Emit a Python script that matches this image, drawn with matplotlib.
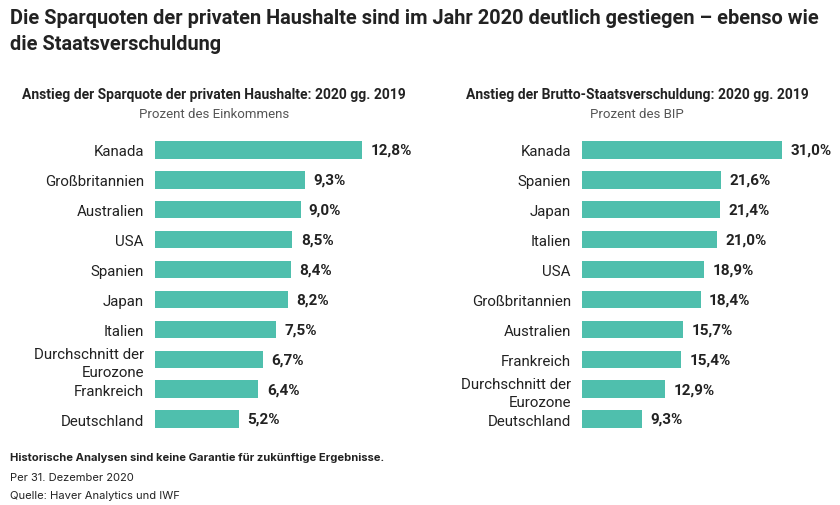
import matplotlib
matplotlib.use("Agg")
import matplotlib.pyplot as plt

cond = 'Roboto'

left_categories = ["Kanada", "Großbritannien", "Australien", "USA", "Spanien", "Japan",
                   "Italien", "Durchschnitt der\nEurozone", "Frankreich", "Deutschland"]
left_values = [12.8, 9.3, 9.0, 8.5, 8.4, 8.2, 7.5, 6.7, 6.4, 5.2]
right_categories = ["Kanada", "Spanien", "Japan", "Italien", "USA", "Großbritannien",
                    "Australien", "Frankreich", "Durchschnitt der\nEurozone", "Deutschland"]
right_values = [31.0, 21.6, 21.4, 21.0, 18.9, 18.4, 15.7, 15.4, 12.9, 9.3]

BAR = '#4FBFAD'
TXT = '#222222'
W, H = 840, 506
fig = plt.figure(figsize=(8.4, 5.06), dpi=100)

def px_axes(x0, y_top, w, h):
    return fig.add_axes([x0 / W, (H - y_top - h) / H, w / W, h / H])

top, bottom = 136, 435

def panel(x0, xmax, pxunit, cats, vals, title, sub, cx):
    ax = px_axes(x0, top, xmax * pxunit, bottom - top)
    y = list(range(len(cats)))
    ax.barh(y, vals, height=0.58, color=BAR)
    ax.set_xlim(0, xmax)
    ax.set_ylim(len(cats) - 0.5, -0.5)
    ax.set_yticks(y)
    ax.set_yticklabels(cats, fontsize=10.8, color=TXT, family=cond, linespacing=1.36)
    ax.tick_params(axis='y', length=0, pad=8)
    ax.set_xticks([])
    for s in ax.spines.values():
        s.set_visible(False)
    for yi, v in zip(y, vals):
        ax.annotate(f"{v:.1f}%".replace('.', ','), (v, yi), xytext=(6, 0),
                    textcoords='offset points', va='center', ha='left',
                    fontsize=11, fontweight='bold', color=TXT, family=cond)
    fig.text(cx / W, 1 - 95 / H, title, ha='center', va='center', fontsize=10,
             fontweight='bold', color=TXT, family=cond)
    fig.text(cx / W, 1 - 114 / H, sub, ha='center', va='center', fontsize=9.5,
             color='#555555', family=cond)

panel(155, 16, 16.17, left_categories, left_values,
      "Anstieg der Sparquote der privaten Haushalte: 2020 gg. 2019",
      "Prozent des Einkommens", 214)
panel(582, 40, 6.45, right_categories, right_values,
      "Anstieg der Brutto-Staatsverschuldung: 2020 gg. 2019",
      "Prozent des BIP", 637)

fig.text(10 / W, 1 - 18 / H, "Die Sparquoten der privaten Haushalte sind im Jahr 2020 deutlich gestiegen – ebenso wie",
         ha='left', va='center', fontsize=14.4, fontweight='bold', color=TXT, family=cond)
fig.text(10 / W, 1 - 45 / H, "die Staatsverschuldung",
         ha='left', va='center', fontsize=14.4, fontweight='bold', color=TXT, family=cond)

fig.text(10 / W, 1 - 458 / H, "Historische Analysen sind keine Garantie für zukünftige Ergebnisse.",
         ha='left', va='center', fontsize=8.05, fontweight='bold', color=TXT, family='Inter')
fig.text(10 / W, 1 - 478 / H, "Per 31. Dezember 2020",
         ha='left', va='center', fontsize=8.05, color=TXT, family='Inter')
fig.text(10 / W, 1 - 496 / H, "Quelle: Haver Analytics und IWF",
         ha='left', va='center', fontsize=8.05, color=TXT, family='Inter')

fig.savefig("out.png", dpi=100)
